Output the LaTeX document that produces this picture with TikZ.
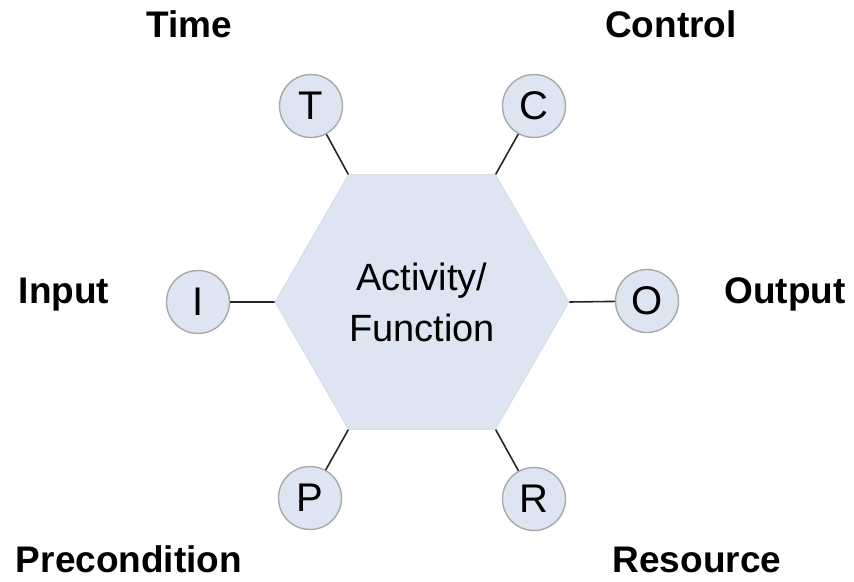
\documentclass[tikz,border=0pt]{standalone}
\usepackage{fontspec}
\setmainfont{Liberation Sans}
\usepackage{xcolor}
\usetikzlibrary{shapes.geometric, positioning}

\definecolor{hexfill}{HTML}{DDE5F3}
\definecolor{ringgray}{HTML}{A8A8A8}

\begin{document}
\begin{tikzpicture}[
  x=1pt, y=-1pt,
  % Box styles
  activity/.style={regular polygon, regular polygon sides=6, minimum size=294pt,
                   inner sep=0pt, fill=hexfill, draw=hexfill!85!gray, line width=0.6pt,
                   align=center, font=\fontsize{38}{51}\selectfont},
  port/.style={circle, minimum size=63pt, inner sep=0pt, fill=hexfill,
               draw=ringgray, line width=1.4pt, font=\fontsize{40}{40}\selectfont},
  tag/.style={anchor=base, font=\fontsize{37}{37}\selectfont\bfseries},
  link/.style={line width=1.6pt, black!85},
]
\useasboundingbox (0,0) rectangle (854,581);

% ---- ACTIVITY (centre) ----
\node[activity] (act) at (422,302) {Activity/\\Function};

% ---- PORTS ----
\node[port] (T) at (311,106) {T};
\node[port] (C) at (534,106) {C};
\node[port] (I) at (198,302) {I};
\node[port] (O) at (647,301) {O};
\node[port] (P) at (310,498) {P};
\node[port] (R) at (534,499) {R};

% port -> hexagon corners
\draw[link] (T) -- (act.120);
\draw[link] (C) -- (act.60);
\draw[link] (I) -- (act.180);
\draw[link] (O) -- (act.0);
\draw[link] (P) -- (act.240);
\draw[link] (R) -- (act.300);

% ---- LABELS ----
\node[tag] (time)    at (189,37)  {Time};
\node[tag] (control) at (671,37)  {Control};
\node[tag] (input)   at (64,303)  {Input};
\node[tag] (output)  at (785,303) {Output};
\node[tag] (precond) at (129,572) {Precondition};
\node[tag] (resrc)   at (697,572) {Resource};

\end{tikzpicture}
\end{document}
